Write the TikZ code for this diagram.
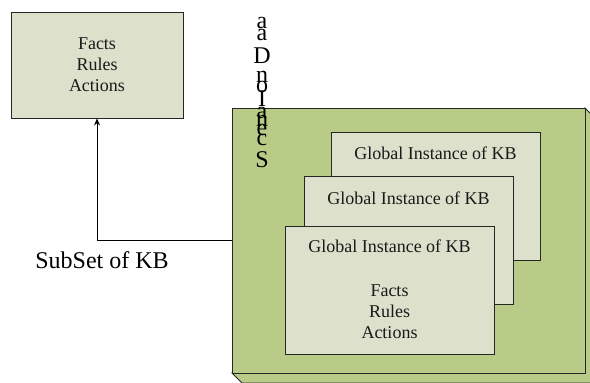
\documentclass[tikz,border=0pt]{standalone}
\usepackage{fontspec}
\setmainfont{Liberation Serif}
\usetikzlibrary{arrows.meta,shadows}
\definecolor{colStore}{HTML}{B8CC88}
\definecolor{colCard}{HTML}{DDE1CC}
\definecolor{colEdge}{HTML}{262626}
\def\cardfont{\fontsize{18pt}{21pt}\selectfont}
\def\subfont{\fontsize{24pt}{28pt}\selectfont}
\def\vertfont{\fontsize{24pt}{26pt}\selectfont}
\tikzset{
  card/.style={draw=colEdge, fill=colCard, line width=0.9pt, inner sep=0pt,
    minimum width=209pt, minimum height=128pt,
    drop shadow={shadow xshift=1.2pt, shadow yshift=-1.2pt, fill=black!60, opacity=1}},
  cardtext/.style={font=\cardfont, align=center, inner sep=0pt, text=black!90},
}
\begin{document}
\begin{tikzpicture}[x=1pt, y=-1pt]
\useasboundingbox (0,0) rectangle (590,383);
% ===================== LEFT: subset box =====================
\node[draw=colEdge, fill=colCard, line width=0.9pt, minimum width=172pt, minimum height=106pt,
      inner sep=0pt] (facts) at (97,65) {};
\node[cardtext] (factsTxt) at (facts.center) {Facts\\Rules\\Actions};

% ===================== RIGHT: store with depth =====================
\fill[colStore, draw=colEdge, line width=0.9pt] (232,373) -- (242,383) -- (595,383) -- (595,118) -- (585,108) -- (585,373) -- cycle;
\node[draw=colEdge, fill=colStore, line width=0.9pt, minimum width=353pt, minimum height=265pt,
      inner sep=0pt] (store) at (408.5,240.5) {};

\node[card] (cardC) at (435.5,196) {};
\node[cardtext] (titleC) at (435.5,153) {Global Instance of KB};
\node[card] (cardB) at (408.5,240) {};
\node[cardtext] (titleB) at (408.5,198) {Global Instance of KB};
\node[card] (cardA) at (389.5,290) {};
\node[cardtext] (titleA) at (389.5,246) {Global Instance of KB};
\node[cardtext] (itemsA) at (389.5,312) {Facts\\Rules\\Actions};

% stacked letters
\foreach \ch/\yy [count=\i] in {a/28, a/40, D/63, n/82, o/92, I/106, a/118, n/126, e/135, c/145, S/167}
  \node[font=\vertfont, anchor=base, inner sep=0pt] (letter\i) at (262,\yy) {\ch};

% ===================== connector =====================
\draw[-{Stealth[length=7pt, width=6pt]}, line width=0.8pt] (store.west) -| (facts.south);
\node[font=\subfont, inner sep=0pt] (subLbl) at (102,260) {SubSet of KB};
\end{tikzpicture}
\end{document}
